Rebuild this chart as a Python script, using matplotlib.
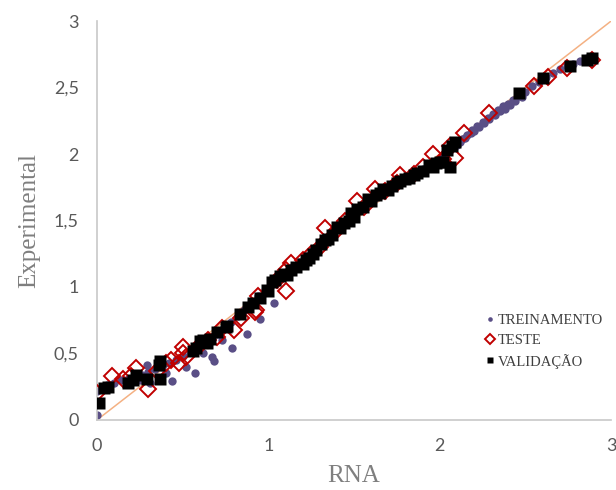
import matplotlib
matplotlib.use('Agg')
import matplotlib.pyplot as plt

# TREINAMENTO (pontos na curva principal + ramo inferior)
trein_x = [0.0, 0.03, 0.06, 0.1, 0.14, 0.18, 0.22, 0.26, 0.3, 0.34, 0.38, 0.42, 0.46, 0.5,
           0.54, 0.58, 0.62, 0.66, 0.7, 0.74, 0.78, 0.82, 0.86, 0.9, 0.94, 0.98, 1.02, 1.06,
           1.1, 1.14, 1.18, 1.22, 1.26, 1.3, 1.34, 1.38, 1.42, 1.46, 1.5, 1.54, 1.58, 1.62,
           1.66, 1.7, 1.74, 1.78, 1.82, 1.86, 1.9, 1.94, 1.98, 2.02, 2.06, 2.1, 2.13, 2.16,
           2.19, 2.22, 2.25, 2.28, 2.31, 2.34, 2.37, 2.4, 2.43, 2.46, 2.5, 2.54, 2.58, 2.62,
           2.66, 2.7, 2.74, 2.78, 2.82, 2.86,
           2.12, 2.15, 2.18, 2.2, 2.23, 2.26, 2.29, 2.32, 2.35, 2.38, 2.41, 2.44, 2.48,
           0.0, 0.25, 0.29, 0.31, 0.4, 0.44, 0.52, 0.57, 0.62, 0.67, 0.68, 0.73, 0.79, 0.875,
           0.95, 1.03]
trein_y = [0.22, 0.24, 0.26, 0.28, 0.3, 0.31, 0.33, 0.34, 0.36, 0.38, 0.4, 0.43, 0.45, 0.48,
           0.51, 0.54, 0.58, 0.61, 0.65, 0.69, 0.74, 0.78, 0.83, 0.88, 0.93, 0.98, 1.02, 1.07,
           1.11, 1.15, 1.19, 1.23, 1.28, 1.33, 1.37, 1.42, 1.46, 1.5, 1.55, 1.59, 1.63, 1.67,
           1.7, 1.74, 1.77, 1.8, 1.83, 1.86, 1.89, 1.91, 1.94, 1.98, 2.03, 2.07, 2.11, 2.14,
           2.18, 2.21, 2.24, 2.27, 2.3, 2.33, 2.36, 2.38, 2.41, 2.44, 2.47, 2.51, 2.54, 2.58,
           2.61, 2.64, 2.66, 2.68, 2.7, 2.72,
           2.09, 2.12, 2.16, 2.17, 2.2, 2.23, 2.26, 2.29, 2.32, 2.34, 2.37, 2.4, 2.43,
           0.04, 0.3, 0.41, 0.28, 0.35, 0.29, 0.4, 0.35, 0.5, 0.47, 0.44, 0.6, 0.54, 0.65,
           0.76, 0.88]

# TESTE
teste_x = [0.0, 0.09, 0.15, 0.2, 0.23, 0.3, 0.35, 0.4, 0.43, 0.48, 0.5, 0.52, 0.5, 0.6,
           0.65, 0.7, 0.73, 0.8, 0.84, 0.92, 0.93, 0.94, 1.05, 1.1, 1.1, 1.13, 1.2, 1.25,
           1.3, 1.33, 1.4, 1.45, 1.52, 1.56, 1.62, 1.68, 1.75, 1.77, 1.85, 1.9, 1.96, 2.02,
           2.09, 2.06, 2.14, 2.29, 2.55, 2.63, 2.74, 2.89]
teste_y = [0.2, 0.33, 0.31, 0.33, 0.39, 0.23, 0.37, 0.43, 0.45, 0.43, 0.5, 0.47, 0.55, 0.56,
           0.6, 0.62, 0.69, 0.68, 0.77, 0.81, 0.83, 0.93, 1.05, 0.97, 1.13, 1.18, 1.2, 1.25,
           1.3, 1.44, 1.43, 1.5, 1.65, 1.6, 1.74, 1.72, 1.78, 1.84, 1.85, 1.9, 2.0, 1.96,
           1.97, 2.06, 2.16, 2.31, 2.51, 2.58, 2.65, 2.71]

# VALIDAÇÃO
valid_x = [0.01, 0.04, 0.065, 0.18, 0.21, 0.23, 0.29, 0.36, 0.37, 0.37, 0.56, 0.58, 0.6,
           0.64, 0.66, 0.75, 0.76, 0.835, 0.91, 0.99, 1.0, 1.02, 1.04, 1.07, 1.11, 1.13, 1.2,
           1.24, 1.28, 1.31, 1.33, 1.35, 1.37, 1.4, 1.44, 1.47, 1.48, 1.52, 1.55, 1.58, 1.6,
           1.63, 1.67, 1.72, 1.77, 1.82, 1.87, 1.9, 1.94, 1.96, 1.98, 2.02, 2.06, 2.04, 2.07,
           2.09, 2.46, 2.6, 2.76, 2.86, 2.89,
           0.62, 0.7, 0.88, 0.95, 1.09, 1.16, 1.22, 1.26, 1.42, 1.5, 1.65, 1.7, 1.75, 1.8,
           1.85, 2.0]
valid_y = [0.13, 0.24, 0.25, 0.28, 0.3, 0.34, 0.31, 0.41, 0.44, 0.31, 0.52, 0.54, 0.59,
           0.58, 0.61, 0.7, 0.71, 0.8, 0.88, 0.98, 0.97, 1.04, 1.05, 1.08, 1.09, 1.13, 1.17,
           1.22, 1.28, 1.32, 1.35, 1.36, 1.39, 1.45, 1.48, 1.5, 1.56, 1.59, 1.6, 1.66, 1.65,
           1.69, 1.74, 1.76, 1.8, 1.82, 1.86, 1.87, 1.92, 1.9, 1.93, 1.94, 1.9, 2.03, 2.06,
           2.09, 2.46, 2.57, 2.66, 2.71, 2.72,
           0.6, 0.66, 0.85, 0.92, 1.1, 1.15, 1.2, 1.25, 1.44, 1.53, 1.71, 1.73, 1.78, 1.81,
           1.84, 1.94]

yticks = [0, 0.5, 1, 1.5, 2, 2.5, 3]
ytick_labels = ['0', '0,5', '1', '1,5', '2', '2,5', '3']
xticks = [0, 1, 2, 3]

fig = plt.figure(figsize=(6.16, 4.9), dpi=100)
ax = fig.add_axes([0.1575, 0.143, 0.8345, 0.814])

ax.plot([0, 3], [0, 3], color='#f4b183', lw=1.1, zorder=1)
ax.plot(trein_x, trein_y, 'o', color='#5a4f86', ms=6, mec='none', zorder=2, label='TREINAMENTO')
ax.plot(teste_x, teste_y, 'D', mfc='none', mec='#c00000', mew=1.4, ms=8.5, zorder=3, label='TESTE')
ax.plot(valid_x, valid_y, 's', color='black', ms=9, mec='none', zorder=4, label='VALIDAÇÃO')

ax.set_xlim(0, 3)
ax.set_ylim(0, 3)
ax.set_xticks(xticks)
ax.set_xticklabels([str(t) for t in xticks])
ax.set_yticks(yticks)
ax.set_yticklabels(ytick_labels)
ax.tick_params(length=0, labelsize=13, labelcolor='#595959', pad=13)
for lab in ax.get_xticklabels() + ax.get_yticklabels():
    lab.set_family('Lato')

for s in ['top', 'right']:
    ax.spines[s].set_visible(False)
for s in ['left', 'bottom']:
    ax.spines[s].set_color('#c8c8c8')
    ax.spines[s].set_linewidth(1.2)

ax.set_xlabel('RNA', family='Liberation Serif', fontsize=18, color='#7f7f7f', labelpad=8)
ax.set_ylabel('Experimental', family='Liberation Serif', fontsize=18, color='#7f7f7f', labelpad=10)

leg = ax.legend(loc='upper left', bbox_to_anchor=(0.745, 0.28), frameon=False,
                handlelength=0.6, handletextpad=0.25, labelspacing=0.45, borderaxespad=0,
                prop={'family': 'Liberation Serif', 'size': 10.5}, markerscale=0.55)
for t in leg.get_texts():
    t.set_color('#404040')

fig.savefig('out.png', dpi=100)
